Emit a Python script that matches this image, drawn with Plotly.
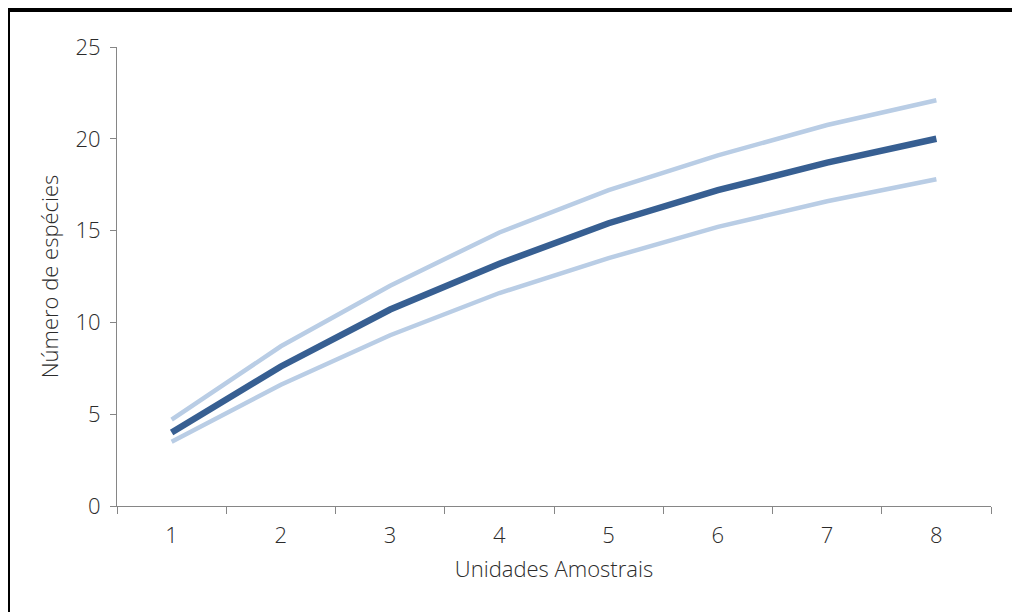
import plotly.graph_objects as go

categories = ["1", "2", "3", "4", "5", "6", "7", "8"]
mean_species = [4.0, 7.6, 10.7, 13.2, 15.4, 17.2, 18.7, 20.0]
upper_ci = [4.7, 8.7, 12.0, 14.9, 17.2, 19.1, 20.75, 22.1]
lower_ci = [3.5, 6.6, 9.3, 11.6, 13.5, 15.2, 16.6, 17.8]

light = "#B9CDE5"
dark = "#375F92"

fig = go.Figure()
fig.add_trace(go.Scatter(x=categories, y=upper_ci, mode="lines",
                         line=dict(color=light, width=4.5), hoverinfo="skip"))
fig.add_trace(go.Scatter(x=categories, y=lower_ci, mode="lines",
                         line=dict(color=light, width=4.5), hoverinfo="skip"))
fig.add_trace(go.Scatter(x=categories, y=mean_species, mode="lines",
                         line=dict(color=dark, width=6.5), hoverinfo="skip"))

OFF = 8  # page body margin
L, R, T, B = 117 - OFF, 991 - OFF, 47 - OFF, 506 - OFF
W, H = 1012, 604
pw, ph = R - L, B - T


def px(x):
    return (x - OFF - L) / pw


def py(y):
    return (B - (y - OFF)) / ph


txt = "#2b2b2b"
fig.update_layout(
    width=W, height=H,
    margin=dict(l=L, r=W - R, t=T, b=H - B, pad=0),
    paper_bgcolor="white", plot_bgcolor="white",
    showlegend=False,
    font=dict(family="Open Sans", size=22, color=txt, weight=300),
    xaxis=dict(
        type="category", range=[-0.5, 7.5], tickson="boundaries",
        ticks="outside", ticklen=7, tickcolor="#868686", tickwidth=1,
        ticklabelstandoff=10,
        showline=True, linecolor="#868686", linewidth=1,
        showgrid=False, zeroline=False,
        title=dict(text="Unidades Amostrais", standoff=13,
                   font=dict(size=22, color=txt, weight=300)),
        tickfont=dict(size=22, color=txt, weight=300),
    ),
    yaxis=dict(
        range=[0, 25], tickvals=[0, 5, 10, 15, 20, 25], ticks="outside", ticklen=6,
        tickcolor="#868686", tickwidth=1, ticklabelstandoff=5,
        showline=True, linecolor="#868686", linewidth=1,
        showgrid=False, zeroline=False,
        title=dict(text="Número de espécies", standoff=10,
                   font=dict(size=22, color=txt, weight=300)),
        tickfont=dict(size=22, color=txt, weight=300),
    ),
    shapes=[
        dict(type="line", xref="paper", yref="paper",
             x0=px(8), x1=px(8), y0=py(8), y1=py(640),
             line=dict(color="black", width=4)),
        dict(type="line", xref="paper", yref="paper",
             x0=px(6), x1=px(1040), y0=py(10), y1=py(10),
             line=dict(color="black", width=4)),
    ],
)

fig.write_html("out.html")
